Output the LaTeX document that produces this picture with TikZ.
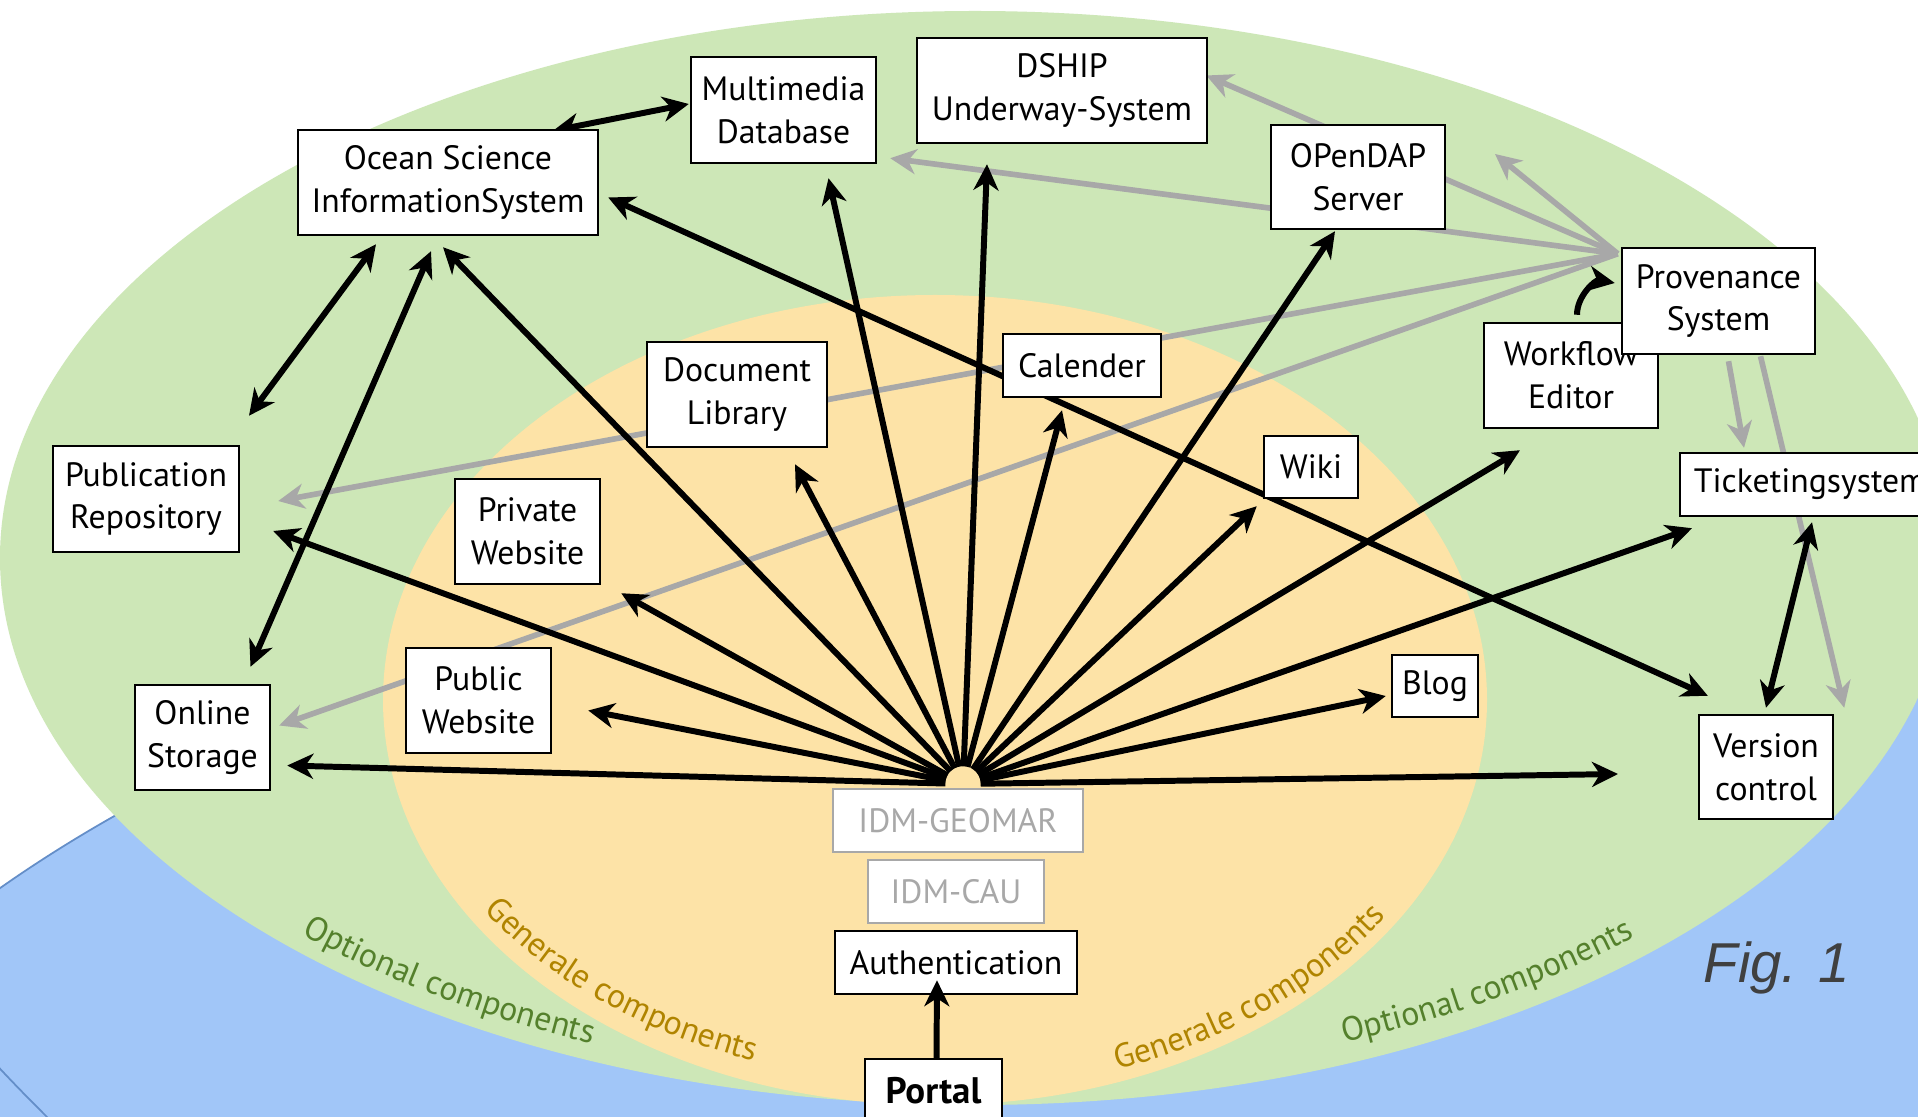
\documentclass[tikz,border=0pt]{standalone}
\usepackage{fontspec}
\setmainfont{PT Sans}
\newfontfamily\figfont{Liberation Sans}
\usetikzlibrary{arrows.meta,decorations.text}

\pgfdeclarelayer{shapes}
\pgfdeclarelayer{links}
\pgfsetlayers{shapes,links,main}

\definecolor{outergreen}{RGB}{205,231,183}
\definecolor{innersand}{RGB}{253,227,167}
\definecolor{basinblue}{RGB}{161,198,248}
\definecolor{rimblue}{RGB}{100,142,200}
\definecolor{optgreen}{RGB}{84,128,44}
\definecolor{genochre}{RGB}{176,132,0}
\definecolor{linkgray}{RGB}{168,168,168}
\definecolor{figgray}{RGB}{64,64,64}

\newcommand{\boxfont}{\fontsize{9.6}{12.2}\selectfont}

\begin{document}
\begin{tikzpicture}[x=0.1mm, y=-0.1mm,
    >={Stealth[length=2.6mm, width=2.5mm, inset=0.8mm]},
    box/.style={draw, fill=white, line width=0.7pt, align=center, inner sep=0pt, font=\boxfont},
    idm/.style={box, draw=linkgray, text=linkgray},
    conn/.style={->, line width=1.7pt},
    both/.style={<->, line width=1.7pt},
    grey/.style={->, line width=1.6pt, linkgray},
    ringtext/.style 2 args={decorate, decoration={text along path, text align=center, text color=#1, text={|\boxfont|#2}}},
]
    \useasboundingbox (0,0) rectangle (1918,1117);

    % optional components
    \node[box, minimum width=30mm, minimum height=10.5mm] (osis) at (448,182.5) {Ocean Science\\InformationSystem};
    \node[box, minimum width=18.5mm, minimum height=10.6mm] (media) at (783.5,110) {Multimedia\\Database};
    \node[box, minimum width=29mm, minimum height=10.5mm] (dship) at (1062,90.5) {DSHIP\\Underway-System};
    \node[box, minimum width=17.4mm, minimum height=10.4mm] (opendap) at (1358,177) {OPenDAP\\Server};
    \node[box, minimum width=17.4mm, minimum height=10.5mm] (workflow) at (1571,375.5) {Workflow\\Editor};
    \node[box, minimum width=19.3mm, minimum height=10.6mm] (prov) at (1718.5,301) {Provenance\\System};
    \node[box, minimum width=26mm, minimum height=6.3mm, anchor=west] (ticket) at (1679,484.5) {Ticketingsystem};
    \node[box, minimum width=13.4mm, minimum height=10.4mm] (version) at (1766,767) {Version\\control};
    \node[box, minimum width=18.6mm, minimum height=10.6mm] (pubrepo) at (146,499) {Publication\\Repository};
    \node[box, minimum width=13.5mm, minimum height=10.5mm] (online) at (202.5,737.5) {Online\\Storage};

    % general components
    \node[box, minimum width=8.6mm, minimum height=6.2mm] (blog) at (1435,686) {Blog};
    \node[box, minimum width=9.4mm, minimum height=6.2mm] (wiki) at (1311,467) {Wiki};
    \node[box, minimum width=15.8mm, minimum height=6.3mm] (calender) at (1082,365.5) {Calender};
    \node[box, minimum width=18mm, minimum height=10.5mm] (doclib) at (737,394.5) {Document\\Library};
    \node[box, minimum width=14.5mm, minimum height=10.5mm] (private) at (527.5,531.5) {Private\\Website};
    \node[box, minimum width=14.5mm, minimum height=10.5mm] (public) at (478.5,700.5) {Public\\Website};

    % login chain
    \node[idm, minimum width=25mm, minimum height=6.3mm] (geomar) at (958,820.5) {IDM-GEOMAR};
    \node[idm, minimum width=17.6mm, minimum height=6.3mm] (cau) at (956,891.5) {IDM-CAU};
    \node[box, minimum width=24.2mm, minimum height=6.3mm] (auth) at (956,962.5) {Authentication};
    \node[box, minimum width=13.7mm, minimum height=6.3mm, font={\fontsize{10.5}{12}\selectfont\bfseries}] (portal) at (933.5,1090.5) {Portal};
    \draw[conn] ([shift={(3,0)}]portal.north) -- ([shift={(-19,-15)}]auth.south);

    \node[circle, minimum size=3.4mm, inner sep=0pt] (hub) at (963,784) {};
    \node[font={\figfont\itshape\fontsize{16}{19}\selectfont}, text=figgray, anchor=base west, inner sep=0pt] (fig) at (1703,982) {Fig. 1};

    \begin{pgfonlayer}{shapes}
        \fill[white] (0,0) rectangle (1918,1117);
        \filldraw[fill=basinblue, draw=rimblue, line width=0.5pt] (1250,1450) ellipse[x radius=1600, y radius=900];
        \draw[rimblue, line width=0.5pt] (-10,1058) .. controls (15,1085) and (30,1100) .. (55,1125);
        \fill[outergreen] (975,558) ellipse[x radius=975, y radius=547];
        \fill[innersand] (935,700) ellipse[x radius=552, y radius=405];
        % ring labels
        \path[ringtext={optgreen}{Optional components}] (975,558) ++(143:955 and 530) arc[start angle=143, end angle=107, x radius=955, y radius=530];
        \path[ringtext={optgreen}{Optional components}] (975,558) ++(73:952 and 526) arc[start angle=73, end angle=39, x radius=952, y radius=526];
        \path[ringtext={genochre}{Generale components}] (935,700) ++(151:540 and 383) arc[start angle=151, end angle=106, x radius=540, y radius=383];
        \path[ringtext={genochre}{Generale components}] (935,700) ++(73:540 and 393) arc[start angle=73, end angle=30, x radius=540, y radius=393];
    \end{pgfonlayer}

    \begin{pgfonlayer}{links}
        % provenance links
        \coordinate (fan) at ([shift={(-3,7)}]prov.north west);
        \coordinate (loose-north) at (1495,154);
        \foreach \tgt/\dx/\dy in {dship.east/-2/-15, media.south east/13/-6, pubrepo.east/38/2, online.east/8/-12}
            \draw[grey] (fan) -- ([shift={(\dx,\dy)}]\tgt);
        \draw[grey] (fan) -- (loose-north);
        \draw[grey] ([shift={(10,6)}]prov.south) -- ([shift={(65,-4)}]ticket.north west);
        \draw[grey] ([shift={(42,1)}]prov.south) -- ([shift={(10,-6)}]version.north east);

        % portal fan
        \coordinate (loose-east) at (1618,774);
        \foreach \tgt/\dx/\dy in {online.east/16/28, public.east/36/10, pubrepo.east/33/32,
                private.south east/20/8, osis.south/-5/11, doclib.south/58/16, media.south/45/14,
                dship.south/-75/20, calender.south/-20/12, opendap.south/-23/1, wiki.south west/-6/7,
                workflow.south/-51/21, ticket.south west/13/11, blog.west/-5/10}
            \draw[conn] (hub) -- ([shift={(\dx,\dy)}]\tgt);
        \draw[conn] (hub) -- (loose-east);

        % exchanges
        \draw[both] ([shift={(105,2)}]osis.north) -- ([shift={(-1,-6)}]media.west);
        \draw[both] ([shift={(-72,8)}]osis.south) -- ([shift={(103,-29)}]pubrepo.north);
        \draw[both] ([shift={(-17,15)}]osis.south) -- ([shift={(48,-17)}]online.north);
        \draw[both] ([shift={(9,15)}]osis.east) -- ([shift={(10,-18)}]version.north west);
        \draw[both] ([shift={(133,5)}]ticket.south west) -- ([shift={(0,-6)}]version.north);
        \draw[conn] ([shift={(6,-7)}]workflow.north) to[bend left=50] ([shift={(-6,-18)}]prov.west);
    \end{pgfonlayer}
\end{tikzpicture}
\end{document}
